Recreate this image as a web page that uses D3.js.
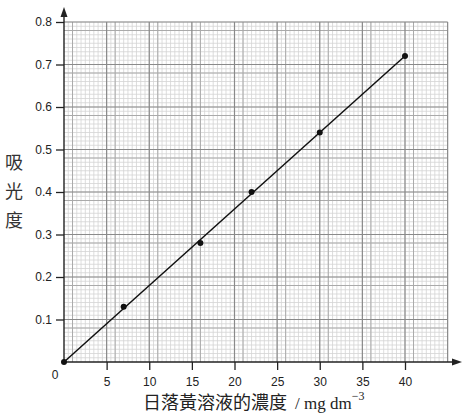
<!DOCTYPE html>
<html><head><meta charset="utf-8">
<script src="https://cdn.jsdelivr.net/npm/d3@7"></script>
<style>body{margin:0;background:#fff}svg{display:block}</style>
</head><body>
<script>
const concentration = [0, 7, 16, 22, 30, 40];
const absorbance = [0, 0.13, 0.28, 0.40, 0.54, 0.72];
const xTicks = [5, 10, 15, 20, 25, 30, 35, 40];
const yTicks = [0.1, 0.2, 0.3, 0.4, 0.5, 0.6, 0.7, 0.8];
const fitLine = [[0, 0], [40, 0.72]];

const W = 469, H = 417;
const svg = d3.select("body").append("svg").attr("width", W).attr("height", H);
const x = d3.scaleLinear().domain([0, 40]).range([64, 405]);
const y = d3.scaleLinear().domain([0, 0.8]).range([362, 22]);
const xMax = 45, yMax = 0.8;

const grid = svg.append("g");
// fine grid
for (let i = 1; i <= xMax * 2; i++) {
  const v = i / 2;
  grid.append("line").attr("x1", x(v)).attr("x2", x(v)).attr("y1", y(0)).attr("y2", y(yMax))
    .attr("stroke", "#d4d4d4").attr("stroke-width", 0.8);
}
for (let i = 1; i <= 80; i++) {
  const v = i / 100;
  grid.append("line").attr("x1", x(0)).attr("x2", x(xMax)).attr("y1", y(v)).attr("y2", y(v))
    .attr("stroke", "#d4d4d4").attr("stroke-width", 0.8);
}
// medium grid (offset, as on the paper)
for (let v = 1; v <= xMax; v += 5) {
  grid.append("line").attr("x1", x(v)).attr("x2", x(v)).attr("y1", y(0)).attr("y2", y(yMax))
    .attr("stroke", "#aaa").attr("stroke-width", 1);
}
for (let k = 0; k < 8; k++) {
  const v = k / 10 + 0.08;
  grid.append("line").attr("x1", x(0)).attr("x2", x(xMax)).attr("y1", y(v)).attr("y2", y(v))
    .attr("stroke", "#aaa").attr("stroke-width", 1);
}
// major grid
for (let v = 5; v <= xMax; v += 5) {
  grid.append("line").attr("x1", x(v)).attr("x2", x(v)).attr("y1", y(0)).attr("y2", y(yMax))
    .attr("stroke", "#8a8a8a").attr("stroke-width", 1.2);
}
yTicks.forEach(v => {
  grid.append("line").attr("x1", x(0)).attr("x2", x(xMax)).attr("y1", y(v)).attr("y2", y(v))
    .attr("stroke", "#8a8a8a").attr("stroke-width", 1.2);
});

// axes
const xAxis = d3.axisBottom(x).tickValues(xTicks).tickSize(8).tickPadding(5).tickFormat(d3.format("d"));
const yAxis = d3.axisLeft(y).tickValues(yTicks).tickSize(8).tickPadding(4).tickFormat(d3.format(".1f"));
const gx = svg.append("g").attr("transform", `translate(0,${y(0)})`).call(xAxis);
const gy = svg.append("g").attr("transform", `translate(${x(0)},0)`).call(yAxis);
[gx, gy].forEach(g => {
  g.select(".domain").remove();
  g.selectAll(".tick line").attr("stroke", "#222").attr("stroke-width", 1.3);
  g.selectAll(".tick text").attr("font-family", "Liberation Sans, Arial, sans-serif")
    .attr("font-size", 12).attr("fill", "#222");
});
gx.selectAll(".tick text").attr("dy", "0.9em");

// axis lines with arrows
svg.append("line").attr("x1", x(0)).attr("x2", 456).attr("y1", y(0)).attr("y2", y(0))
  .attr("stroke", "#222").attr("stroke-width", 1.4);
svg.append("path").attr("d", `M462,${y(0)} L452,${y(0)-3.5} L452,${y(0)+3.5} Z`).attr("fill", "#222");
svg.append("line").attr("x1", x(0)).attr("x2", x(0)).attr("y1", y(0)).attr("y2", 14)
  .attr("stroke", "#222").attr("stroke-width", 1.4);
svg.append("path").attr("d", `M${x(0)},7 L${x(0)-3.5},17 L${x(0)+3.5},17 Z`).attr("fill", "#222");

svg.append("text").attr("x", 55).attr("y", 379).attr("text-anchor", "middle")
  .attr("font-family", "Liberation Sans, Arial, sans-serif").attr("font-size", 12).attr("fill", "#222").text("0");

// best-fit line
svg.append("path").datum(fitLine)
  .attr("d", d3.line().x(d => x(d[0])).y(d => y(d[1])))
  .attr("stroke", "#111").attr("stroke-width", 1.5).attr("fill", "none");

// points
svg.append("g").selectAll("circle").data(concentration.map((c, i) => [c, absorbance[i]]))
  .join("circle").attr("cx", d => x(d[0])).attr("cy", d => y(d[1])).attr("r", 3).attr("fill", "#111");

// y label
const yl = svg.append("text").attr("font-family", "Noto Sans CJK TC, sans-serif").attr("font-size", 18).attr("fill", "#333")
  .attr("text-anchor", "middle");
["吸", "光", "度"].forEach((ch, i) => {
  yl.append("tspan").attr("x", 14).attr("y", 169 + i * 29).text(ch);
});

// x label
const xl = svg.append("text").attr("x", 143).attr("y", 409).attr("fill", "#222");
xl.append("tspan").attr("font-family", "Noto Sans CJK TC, sans-serif").attr("font-size", 18).text("日落黃溶液的濃度");
xl.append("tspan").attr("font-family", "Liberation Serif, Times New Roman, serif").attr("font-size", 17).attr("dx", 8).text("/ mg dm");
xl.append("tspan").attr("font-family", "Liberation Serif, Times New Roman, serif").attr("font-size", 12).attr("dy", -9).text("−3");
</script>
</body></html>
